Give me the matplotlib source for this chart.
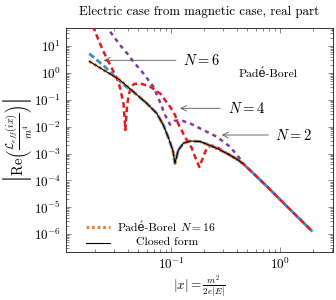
import matplotlib
matplotlib.use("Agg")
import matplotlib.pyplot as plt
from matplotlib.ticker import LogLocator, NullFormatter

plt.rcParams['font.family'] = ['cmr10', 'DejaVu Serif']
plt.rcParams['mathtext.fontset'] = 'cm'
plt.rcParams['axes.formatter.use_mathtext'] = True
plt.rcParams['lines.scale_dashes'] = False

# Closed form (black) and Pade-Borel N=16 (orange)
x_closed = [0.0178, 0.0340, 0.0451, 0.0598, 0.0739, 0.0850, 0.0945, 0.1037, 0.1088,
            0.1167, 0.1297, 0.1493, 0.1846, 0.2443, 0.3245, 0.4143, 0.45]
y_closed = [2.73, 0.548, 0.201, 0.0743, 0.0315, 0.01153, 0.00394, 0.00135, 0.00043,
            0.00135, 0.0024, 0.00292, 0.0028, 0.00179, 0.00102, 0.00057, 0.00044]

# Pade-Borel N=6 (blue)
x_n6 = [0.0178, 0.0202, 0.0249, 0.0308, 0.0379, 0.0451, 0.0598, 0.0739, 0.0850, 0.0945,
        0.1037, 0.1088, 0.1167, 0.1297, 0.1493, 0.1846, 0.2443, 0.3245, 0.4143, 0.4775,
        0.590, 0.776, 0.959, 1.235, 1.582, 1.98]
y_n6 = [5.24, 3.41, 1.67, 0.71, 0.33, 0.201, 0.0743, 0.0315, 0.01153, 0.00394,
        0.00135, 0.00043, 0.00135, 0.0024, 0.00292, 0.0028, 0.00179, 0.00102, 0.00057, 0.000357,
        0.000158, 5.4e-5, 2.29e-5, 8.2e-6, 3.05e-6, 1.24e-6]

# Pade-Borel N=4 (red)
x_n4 = [0.0178, 0.0195, 0.0217, 0.0241, 0.0268, 0.0298, 0.0320, 0.0343, 0.0355, 0.0368,
        0.0381, 0.0396, 0.0409, 0.0430, 0.0458, 0.0520, 0.0642, 0.0792, 0.0979, 0.1088,
        0.116, 0.1343, 0.1548, 0.166, 0.1819, 0.1977, 0.2128, 0.2328, 0.2626, 0.3245,
        0.4143, 0.4775, 0.590, 0.776, 0.959, 1.235, 1.582, 1.98]
y_n4 = [118, 47.5, 16.6, 6.06, 2.57, 1.09, 0.613, 0.26, 0.127, 0.0642,
        0.0075, 0.0642, 0.151, 0.301, 0.389, 0.413, 0.309, 0.175, 0.0554, 0.0272,
        0.0133, 0.00412, 0.0016, 0.00076, 0.000314, 0.00076, 0.0016, 0.00199, 0.00175, 0.00102,
        0.00057, 0.000357, 0.000158, 5.4e-5, 2.29e-5, 8.2e-6, 3.05e-6, 1.24e-6]

# Pade-Borel N=2 (purple)
x_n2 = [0.0178, 0.0261, 0.0340, 0.0409, 0.0451, 0.0557, 0.0688, 0.0792, 0.0881, 0.0979,
        0.1066, 0.121, 0.1493, 0.1977, 0.2626, 0.3477, 0.414, 0.4775, 0.590, 0.776,
        0.959, 1.235, 1.582, 1.98]
y_n2 = [320, 47.5, 11.1, 4.57, 2.64, 0.975, 0.309, 0.083, 0.0272, 0.012,
        0.0163, 0.0177, 0.0133, 0.0075, 0.00423, 0.00179, 0.00076, 0.000357, 0.000158, 5.4e-5,
        2.29e-5, 8.2e-6, 3.05e-6, 1.24e-6]

fig = plt.figure(figsize=(3.36, 3.0), dpi=100)
ax = fig.add_axes([66/336, 48/300, 267/336, 224/300])

c_blue = '#3a8bd0'
c_red = '#e8191c'
c_purple = '#7d3c9b'
c_orange = '#ee8535'

ax.loglog(x_n2, y_n2, color=c_purple, lw=1.8, dashes=(3.0, 3.0), zorder=2)
ax.loglog(x_n6, y_n6, color=c_blue, lw=2.0, dashes=(4.5, 2.2), zorder=3)
ax.loglog(x_n4, y_n4, color=c_red, lw=1.8, dashes=(4.0, 2.6), zorder=4)
ax.loglog(x_closed, y_closed, color=c_orange, lw=2.2, dashes=(2.0, 2.0), zorder=5,
          solid_capstyle='butt', dash_capstyle='butt')
ax.loglog(x_closed, y_closed, color='black', lw=0.8, zorder=6)

ax.set_xlim(0.01088, 3.06)
ax.set_ylim(2.14e-7, 47.5)

ax.xaxis.set_major_locator(LogLocator(base=10, numticks=20))
ax.xaxis.set_minor_locator(LogLocator(base=10, subs=range(2, 10), numticks=20))
ax.yaxis.set_major_locator(LogLocator(base=10, numticks=20))
ax.yaxis.set_minor_locator(LogLocator(base=10, subs=range(2, 10), numticks=20))
ax.xaxis.set_minor_formatter(NullFormatter())
ax.yaxis.set_minor_formatter(NullFormatter())
ax.tick_params(which='both', direction='in', top=True, right=True, labelsize=9.5,
               color='#555555', width=0.5)
ax.tick_params(which='major', length=3.5)
ax.tick_params(which='minor', length=2)
for s in ax.spines.values():
    s.set_linewidth(0.7)
    s.set_color('#333333')

ax.set_title('Electric case from magnetic case, real part', fontsize=9.3, pad=9)
ax.set_xlabel(r'$|x| = \frac{m^2}{2e|E|}$', fontsize=9.5, labelpad=1)
ax.set_ylabel(r'$\left|\mathrm{Re}\left(\frac{\mathcal{L}_{eff}(ix)}{m^4}\right)\right|$',
              fontsize=10.5, labelpad=0)

arrow_kw = dict(arrowstyle='->', color='#555555', lw=0.6, shrinkA=0, shrinkB=0)
ax.annotate('', xy=(0.0241, 2.97), xytext=(0.111, 2.97), arrowprops=arrow_kw)
ax.text(0.129, 2.97, r'$N=6$', fontsize=10.5, va='center', ha='left')
ax.annotate('', xy=(0.121, 0.0483), xytext=(0.282, 0.0483), arrowprops=arrow_kw)
ax.text(0.333, 0.0483, r'$N=4$', fontsize=10.5, va='center', ha='left')
ax.annotate('', xy=(0.292, 0.00489), xytext=(0.781, 0.00489), arrowprops=arrow_kw)
ax.text(0.90, 0.00489, r'$N=2$', fontsize=10.5, va='center', ha='left')
ax.text(0.784, 0.91, 'Padé-Borel', fontsize=8.5, va='center', ha='center')

# legend (centered entries, no frame)
tr = ax.transAxes
ax.plot([0.075, 0.165], [0.110, 0.110], transform=tr, color=c_orange, lw=2.2,
        dashes=(2.0, 2.0), dash_capstyle='butt', clip_on=False)
ax.plot([0.075, 0.165], [0.0415, 0.0415], transform=tr, color='black', lw=0.8, clip_on=False)
t1 = ax.text(0.378, 0.110, 'Padé-Borel', transform=tr, fontsize=8.5, ha='left', va='center')
t2 = ax.text(0.378, 0.110, r'$N=16$', transform=tr, fontsize=8.5, ha='left', va='center')
ax.text(0.378, 0.0415, 'Closed form', transform=tr, fontsize=8.5, ha='center', va='center')

# center the two-piece legend label around x=0.378 (axes coords)
renderer = fig.canvas.get_renderer()
w1 = t1.get_window_extent(renderer).width
w2 = t2.get_window_extent(renderer).width
gap = 3.0
axw = ax.get_window_extent(renderer).width
total = (w1 + gap + w2) / axw
x_start = 0.378 - total / 2
t1.set_x(x_start)
t2.set_x(x_start + (w1 + gap) / axw)

fig.savefig('out.png', dpi=100)
